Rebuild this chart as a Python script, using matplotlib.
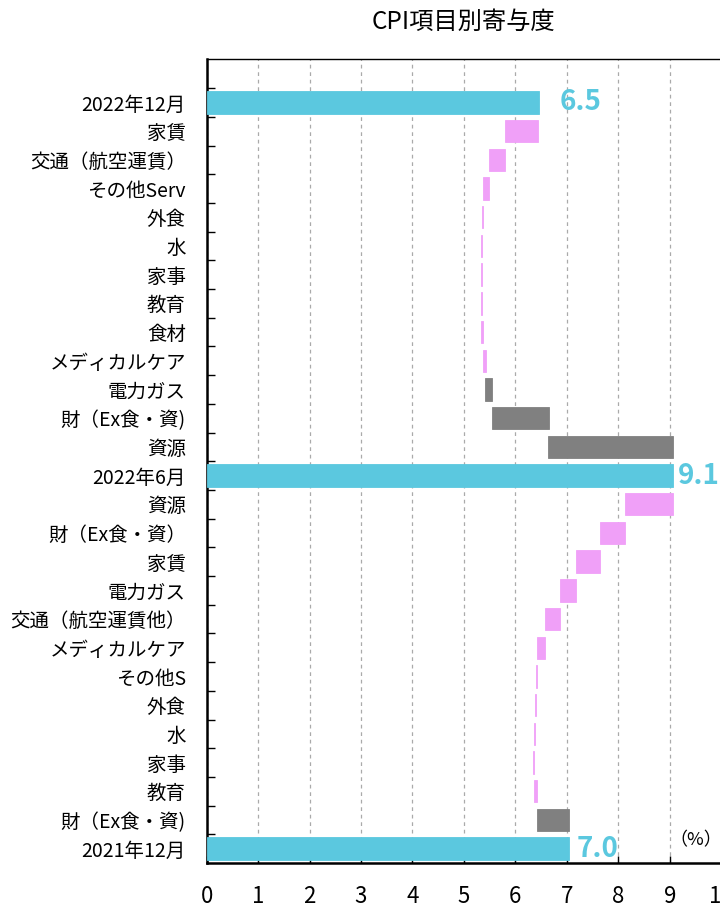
import numpy as np
import matplotlib
matplotlib.use("Agg")
import matplotlib.pyplot as plt

plt.rcParams['font.family'] = ['Noto Sans CJK JP', 'DejaVu Sans']

# 上から順に（2022年12月 -> 2021年12月）
labels = ["2022年12月", "家賃", "交通（航空運賃）", "その他Serv", "外食", "水", "家事", "教育",
          "食材", "メディカルケア", "電力ガス", "財（Ex食・資)", "資源",
          "2022年6月", "資源", "財（Ex食・資）", "家賃", "電力ガス", "交通（航空運賃他）",
          "メディカルケア", "その他S", "外食", "水", "家事", "教育", "財（Ex食・資)",
          "2021年12月"]
starts = [0.0, 5.80, 5.48, 5.37, 5.35, 5.335, 5.33, 5.33,
          5.33, 5.37, 5.41, 5.55, 6.64,
          0.0, 8.14, 7.64, 7.17, 6.86, 6.58,
          6.43, 6.40, 6.38, 6.36, 6.34, 6.36, 6.42,
          0.0]
ends = [6.45, 6.44, 5.80, 5.48, 5.37, 5.35, 5.345, 5.345,
        5.37, 5.42, 5.55, 6.66, 9.07,
        9.06, 9.07, 8.14, 7.64, 7.17, 6.86,
        6.57, 6.43, 6.40, 6.38, 6.36, 6.43, 7.04,
        7.04]
kinds = ["total", "up", "up", "up", "up", "up", "up", "up",
         "up", "up", "down", "down", "down",
         "total", "up", "up", "up", "up", "up",
         "up", "up", "up", "up", "up", "up", "down",
         "total"]
total_text = ["6.5", "9.1", "7.0"]

colors = {"total": "#5BC8DF", "up": "#F0A0F8", "down": "#808080"}

n = len(labels)
y = np.arange(n)[::-1]
starts = np.array(starts)
ends = np.array(ends)
cols = [colors[k] for k in kinds]

fig = plt.figure(figsize=(7.2, 9.07), dpi=100)
ax = fig.add_axes([0.287, 0.0485, 0.7146, 0.886])

ax.barh(y, ends - starts, left=starts, height=0.78,
        color=cols, edgecolor=cols, linewidth=0.6, zorder=3)

# 合計の数値
tot_idx = [i for i, k in enumerate(kinds) if k == "total"]
offs = [0.42, 0.10, 0.16]
for i, t, o in zip(tot_idx, total_text, offs):
    ax.text(ends[i] + o, y[i], t, color="#5BC8DF", fontsize=20, fontweight="bold",
            va="center", ha="left", zorder=4)

ax.text(9.51, 0.3, "（%）", fontsize=13, ha="center", va="center")

ax.set_xlim(0, 10)
ax.set_ylim(-0.5, n + 0.5)
ax.set_xticks(np.arange(0, 11))
ax.set_yticks(y)
ax.set_yticklabels(labels)
ax.set_yticks(np.arange(0.5, n, 1.0), minor=True)
ax.tick_params(axis="y", which="major", length=0, pad=15, labelsize=14)
ax.tick_params(axis="y", which="minor", direction="in", length=6, width=1)
ax.tick_params(axis="x", direction="in", length=5, width=1, pad=16, labelsize=16)

ax.grid(axis="x", linestyle=(0, (3, 3)), color="#aaaaaa", linewidth=0.9, zorder=0)
ax.spines["left"].set_linewidth(1.8)
ax.spines["bottom"].set_linewidth(1.8)
ax.spines["top"].set_linewidth(1.0)

fig.text(0.643, 0.976, "CPI項目別寄与度", ha="center", va="center", fontsize=17.5)

fig.savefig("out.png", dpi=100)
